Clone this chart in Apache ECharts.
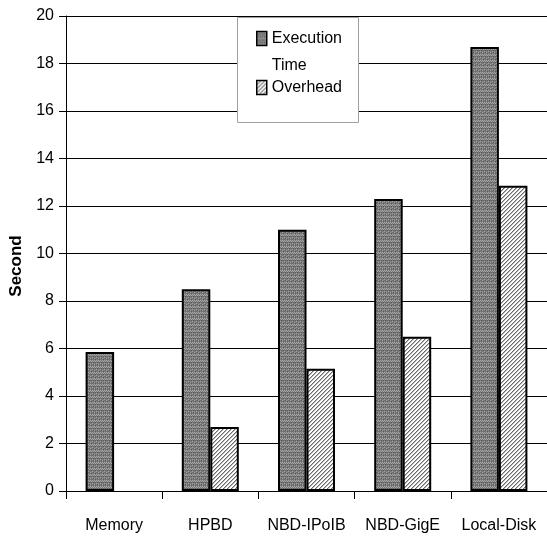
<!DOCTYPE html>
<html>
<head>
<meta charset="utf-8">
<script src="https://cdn.jsdelivr.net/npm/echarts@6/dist/echarts.min.js"></script>
<style>
  html, body { margin: 0; padding: 0; background: #fff; }
  #chart { width: 547px; height: 544px; }
</style>
</head>
<body>
<div id="chart"></div>
<script>
// Run times per storage backend, in seconds
const categories = ['Memory', 'HPBD', 'NBD-IPoIB', 'NBD-GigE', 'Local-Disk'];
const executionTime = [5.85, 8.5, 11.0, 12.3, 18.7];
const overhead = [null, 2.7, 5.15, 6.5, 12.85];
const yTicks = { min: 0, max: 20, interval: 2 };

const FONT = '"Liberation Sans", Arial, sans-serif';
const FS = 16;

// Fill textures: dithered grey for execution time, diagonal hatch for overhead
function dotPattern() {
  const c = document.createElement('canvas');
  c.width = 4; c.height = 6;
  const g = c.getContext('2d');
  g.fillStyle = '#7a7a7a';
  g.fillRect(0, 0, 4, 6);
  g.fillStyle = '#a4a4a4';
  [[0,0],[2,0],[1,1],[3,1],[0,3],[2,4]].forEach(p => g.fillRect(p[0], p[1], 1, 1));
  g.fillStyle = '#5a5a5a';
  [[1,2],[3,2],[1,4],[3,5]].forEach(p => g.fillRect(p[0], p[1], 1, 1));
  return c;
}
function hatchPattern() {
  const c = document.createElement('canvas');
  c.width = 4; c.height = 4;
  const g = c.getContext('2d');
  g.fillStyle = '#ffffff';
  g.fillRect(0, 0, 4, 4);
  g.fillStyle = '#6a6a6a';
  [[3,0],[2,1],[1,2],[0,3]].forEach(p => g.fillRect(p[0], p[1], 1, 1));
  g.fillStyle = '#b8b8b8';
  [[0,0],[3,1],[2,2],[1,3]].forEach(p => g.fillRect(p[0], p[1], 1, 1));
  return c;
}

const chart = echarts.init(document.getElementById('chart'), null, { renderer: 'canvas' });

chart.setOption({
  animation: false,
  backgroundColor: '#fff',
  grid: { left: 65, right: -4, top: 16, bottom: 53, containLabel: false },
  graphic: [{
    type: 'rect',
    z: 3,
    shape: { x: 237.5, y: 17.5, width: 121, height: 105 },
    style: { fill: '#fff', stroke: '#a0a0a0', lineWidth: 1 }
  }],
  legend: {
    z: 5,
    orient: 'vertical',
    left: 256,
    top: 3.5,
    padding: 0,
    itemGap: 6,
    itemWidth: 10,
    itemHeight: 14,
    icon: 'rect',
    itemStyle: { borderColor: '#000', borderWidth: 1.5 },
    data: ['Execution Time', 'Overhead'],
    formatter: function (name) {
      return name === 'Execution Time'
        ? '{s| }\n{a|Execution}\n{a|Time}'
        : '{b|Overhead}';
    },
    textStyle: {
      color: '#000',
      fontFamily: FONT,
      fontSize: FS,
      rich: {
        s: { fontFamily: FONT, fontSize: FS, lineHeight: 27 },
        a: { fontFamily: FONT, fontSize: FS, lineHeight: 27, color: '#000' },
        b: { fontFamily: FONT, fontSize: FS, lineHeight: 18, color: '#000' }
      }
    }
  },
  xAxis: {
    type: 'category',
    data: categories,
    axisLine: { lineStyle: { color: '#000', width: 1 } },
    axisTick: { show: true, length: 8, inside: false, lineStyle: { color: '#000' } },
    axisLabel: { color: '#000', fontFamily: FONT, fontSize: FS, margin: 27, interval: 0 },
    splitLine: { show: false }
  },
  yAxis: {
    type: 'value',
    min: yTicks.min,
    max: yTicks.max,
    interval: yTicks.interval,
    name: 'Second',
    nameLocation: 'middle',
    nameGap: 41,
    nameRotate: 90,
    nameTextStyle: {
      color: '#000',
      fontFamily: FONT,
      fontWeight: 'bold',
      fontSize: 17,
      padding: [0, 25, 0, 0]
    },
    axisLine: { show: true, lineStyle: { color: '#000', width: 1 } },
    axisTick: { show: true, length: 7, lineStyle: { color: '#000' } },
    axisLabel: { color: '#000', fontFamily: FONT, fontSize: FS, margin: 12 },
    splitLine: { show: true, lineStyle: { color: '#000', width: 1 } }
  },
  series: [
    {
      name: 'Execution Time',
      type: 'bar',
      data: executionTime,
      barWidth: 28.5,
      barGap: '0%',
      itemStyle: { color: { image: dotPattern(), repeat: 'repeat' }, borderColor: '#000', borderWidth: 2 },
      z: 2
    },
    {
      name: 'Overhead',
      type: 'bar',
      data: overhead,
      barWidth: 28.5,
      barGap: '0%',
      itemStyle: { color: { image: hatchPattern(), repeat: 'repeat' }, borderColor: '#000', borderWidth: 2 },
      z: 2
    }
  ]
});
</script>
</body>
</html>
